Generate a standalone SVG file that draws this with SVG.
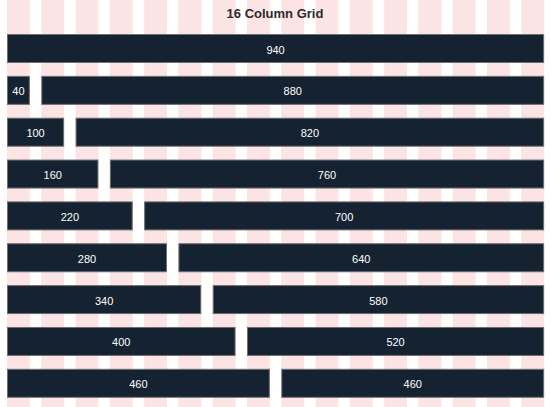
<svg xmlns="http://www.w3.org/2000/svg" width="550" height="407" viewBox="0 0 550 407">
<style>
.col{fill:#fde4e4}
.bar rect{fill:#152231;stroke:#6e6e6e;stroke-width:1}
.bar text{fill:#ffffff;font-family:"Liberation Sans",Arial,sans-serif;font-size:11px;text-anchor:middle}
.title{fill:#2b2b2b;font-family:"Liberation Sans",Arial,sans-serif;font-size:13px;font-weight:bold;text-anchor:middle}
</style>
<rect width="550" height="407" fill="#ffffff"/>
<g id="columns">
<rect class="col" x="7" y="0" width="22.86" height="407"/>
<rect class="col" x="41.29" y="0" width="22.86" height="407"/>
<rect class="col" x="75.57" y="0" width="22.86" height="407"/>
<rect class="col" x="109.86" y="0" width="22.86" height="407"/>
<rect class="col" x="144.14" y="0" width="22.86" height="407"/>
<rect class="col" x="178.43" y="0" width="22.86" height="407"/>
<rect class="col" x="212.71" y="0" width="22.86" height="407"/>
<rect class="col" x="247" y="0" width="22.86" height="407"/>
<rect class="col" x="281.29" y="0" width="22.86" height="407"/>
<rect class="col" x="315.57" y="0" width="22.86" height="407"/>
<rect class="col" x="349.86" y="0" width="22.86" height="407"/>
<rect class="col" x="384.14" y="0" width="22.86" height="407"/>
<rect class="col" x="418.43" y="0" width="22.86" height="407"/>
<rect class="col" x="452.71" y="0" width="22.86" height="407"/>
<rect class="col" x="487" y="0" width="22.86" height="407"/>
<rect class="col" x="521.29" y="0" width="22.86" height="407"/>
</g>
<text class="title" x="275" y="18">16 Column Grid</text>
<g id="connectors"></g>
<g id="bar-940" class="bar"><rect x="7.5" y="34.5" width="536.14" height="28"/><text x="275.57" y="53.5">940</text></g>

<g id="bar-40" class="bar"><rect x="7.5" y="76.35" width="21.86" height="28"/><text x="18.43" y="95.35">40</text></g>
<g id="bar-880" class="bar"><rect x="41.79" y="76.35" width="501.86" height="28"/><text x="292.71" y="95.35">880</text></g>

<g id="bar-100" class="bar"><rect x="7.5" y="118.2" width="56.14" height="28"/><text x="35.57" y="137.2">100</text></g>
<g id="bar-820" class="bar"><rect x="76.07" y="118.2" width="467.57" height="28"/><text x="309.86" y="137.2">820</text></g>

<g id="bar-160" class="bar"><rect x="7.5" y="160.05" width="90.43" height="28"/><text x="52.71" y="179.05">160</text></g>
<g id="bar-760" class="bar"><rect x="110.36" y="160.05" width="433.29" height="28"/><text x="327" y="179.05">760</text></g>

<g id="bar-220" class="bar"><rect x="7.5" y="201.9" width="124.71" height="28"/><text x="69.86" y="220.9">220</text></g>
<g id="bar-700" class="bar"><rect x="144.64" y="201.9" width="399" height="28"/><text x="344.14" y="220.9">700</text></g>

<g id="bar-280" class="bar"><rect x="7.5" y="243.75" width="159" height="28"/><text x="87" y="262.75">280</text></g>
<g id="bar-640" class="bar"><rect x="178.93" y="243.75" width="364.71" height="28"/><text x="361.29" y="262.75">640</text></g>

<g id="bar-340" class="bar"><rect x="7.5" y="285.6" width="193.29" height="28"/><text x="104.14" y="304.6">340</text></g>
<g id="bar-580" class="bar"><rect x="213.21" y="285.6" width="330.43" height="28"/><text x="378.43" y="304.6">580</text></g>

<g id="bar-400" class="bar"><rect x="7.5" y="327.45" width="227.57" height="28"/><text x="121.29" y="346.45">400</text></g>
<g id="bar-520" class="bar"><rect x="247.5" y="327.45" width="296.14" height="28"/><text x="395.57" y="346.45">520</text></g>

<g id="bar-460a" class="bar"><rect x="7.5" y="369.3" width="261.86" height="28"/><text x="138.43" y="388.3">460</text></g>
<g id="bar-460b" class="bar"><rect x="281.79" y="369.3" width="261.86" height="28"/><text x="412.71" y="388.3">460</text></g>
</svg>
